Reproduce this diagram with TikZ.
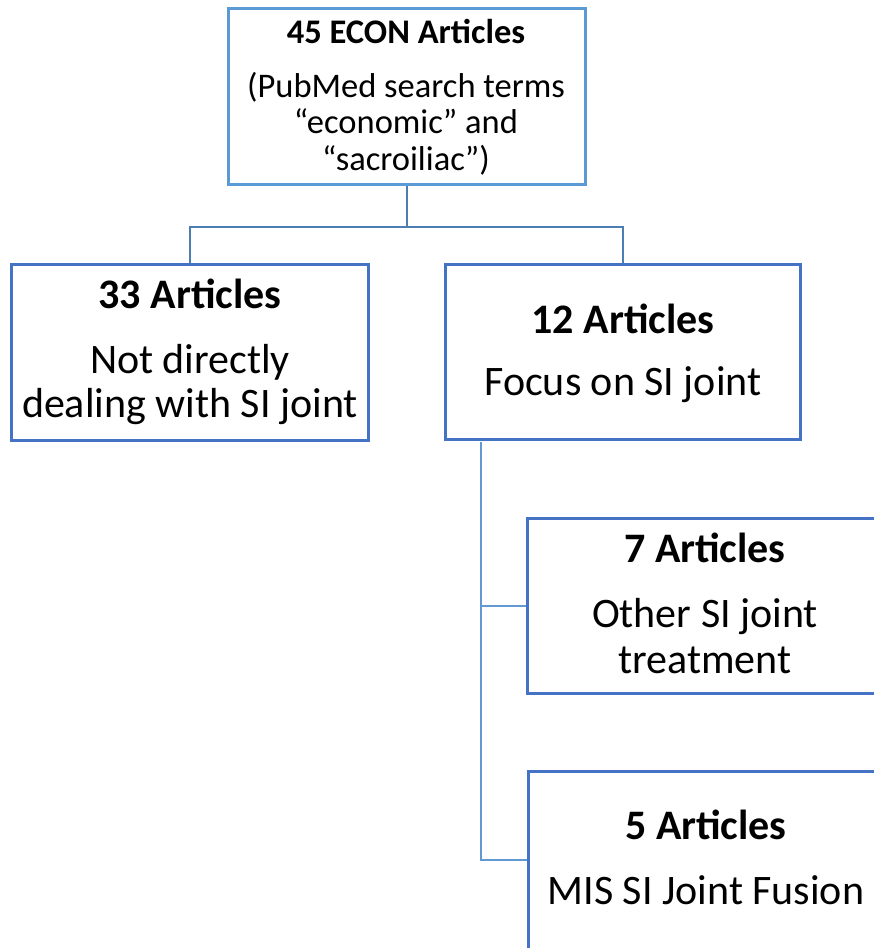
\documentclass[tikz,border=0pt]{standalone}
\usepackage{fontspec}
\setmainfont{Carlito}
\definecolor{rootblue}{HTML}{5B9BD5}
\definecolor{boxblue}{HTML}{4472C4}
\definecolor{stemblue}{HTML}{4D7EB3}
\definecolor{branchblue}{HTML}{6399D2}
\tikzset{
  rootbox/.style={draw=rootblue, line width=3pt, rectangle, inner sep=0pt},
  catbox/.style={draw=boxblue, line width=3pt, rectangle, inner sep=0pt},
  treeline/.style={line width=2pt},
  txt/.style={anchor=base, inner sep=0pt},
  smallfont/.style={font=\fontsize{34.5}{36}\selectfont},
  bigfont/.style={font=\fontsize{42}{44}\selectfont},
}
\begin{document}
\begin{tikzpicture}[x=1pt, y=-1pt]
\useasboundingbox (0,0) rectangle (874,948);
\clip (0,0) rectangle (874,948);

% boxes
\node[rootbox, minimum width=357pt, minimum height=176pt] (root) at (406.5,96) {};
\node[catbox, minimum width=356.5pt, minimum height=176pt] (other) at (189.75,352) {};
\node[catbox, minimum width=355pt, minimum height=175pt] (focus) at (623,352) {};
\node[catbox, minimum width=358pt, minimum height=175pt] (treat) at (706,606) {};
\node[catbox, minimum width=358pt, minimum height=177.5pt] (fusion) at (707,860.25) {};

% connectors
\draw[treeline, stemblue] (root.south) -- ++(0,41.5) -| (other.north);
\draw[treeline, stemblue] (root.south) -- ++(0,41.5) -| (focus.north);
\coordinate (trunk) at (481,441.5);
\draw[treeline, branchblue] (trunk) |- (treat.west);
\draw[treeline, branchblue] (trunk) |- (fusion.west);

% texts
\node[txt, smallfont] (t0a) at (406,43) {\bfseries 45 ECON Articles};
\node[txt, smallfont] (t0b) at (406,97) {(PubMed search terms};
\node[txt, smallfont] (t0c) at (406,133) {“economic” and};
\node[txt, smallfont] (t0d) at (406,170) {“sacroiliac”)};

\node[txt, bigfont] (t1a) at (190,308) {\bfseries 33 Articles};
\node[txt, bigfont] (t1b) at (190,373) {Not directly};
\node[txt, bigfont] (t1c) at (190,417) {dealing with SI joint};

\node[txt, bigfont] (t2a) at (623,333) {\bfseries 12 Articles};
\node[txt, bigfont] (t2b) at (623,395) {Focus on SI joint};

\node[txt, bigfont] (t3a) at (705,562) {\bfseries 7 Articles};
\node[txt, bigfont] (t3b) at (705,627) {Other SI joint};
\node[txt, bigfont] (t3c) at (705,673) {treatment};

\node[txt, bigfont] (t4a) at (706,839) {\bfseries 5 Articles};
\node[txt, bigfont] (t4b) at (706,904) {MIS SI Joint Fusion};
\end{tikzpicture}
\end{document}
